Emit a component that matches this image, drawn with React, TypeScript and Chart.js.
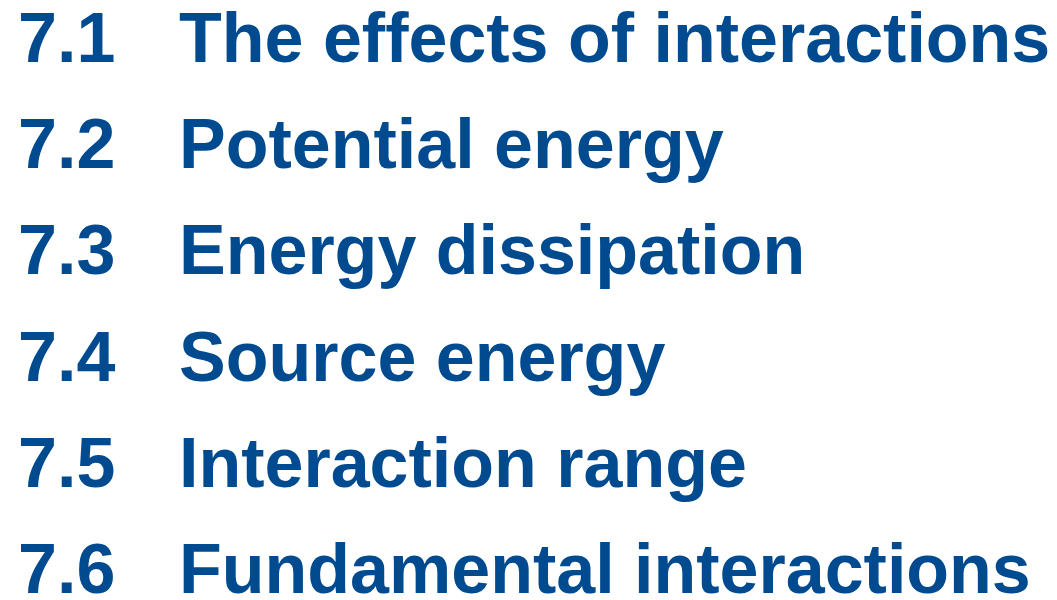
import React, { useEffect, useRef } from "react";
import { Chart, registerables } from "chart.js";

Chart.register(...registerables);

const sectionNumbers = ["7.1", "7.2", "7.3", "7.4", "7.5", "7.6"];
const sectionTitles = [
  "The effects of interactions",
  "Potential energy",
  "Energy dissipation",
  "Source energy",
  "Interaction range",
  "Fundamental interactions",
];
const rowIndex = [0, 1, 2, 3, 4, 5];

const TEXT_COLOR = "#004a8f";
const FONT = "bold 70px 'Liberation Sans', Arial, sans-serif";

const tocPlugin = {
  id: "tocText",
  afterDatasetsDraw(chart: any) {
    const ctx = chart.ctx;
    const xs = chart.scales.x;
    const ys = chart.scales.y;
    ctx.save();
    ctx.fillStyle = TEXT_COLOR;
    ctx.font = FONT;
    ctx.textBaseline = "alphabetic";
    ctx.textAlign = "left";
    rowIndex.forEach((i) => {
      const y = ys.getPixelForValue(i);
      ctx.fillText(sectionNumbers[i], xs.getPixelForValue(18), y);
      ctx.fillText(sectionTitles[i], xs.getPixelForValue(179), y);
    });
    ctx.restore();
  },
};

export default function App() {
  const ref = useRef<HTMLCanvasElement>(null);
  useEffect(() => {
    document.body.style.margin = "0";
    const chart = new Chart(ref.current as HTMLCanvasElement, {
      type: "scatter",
      data: {
        datasets: [
          {
            data: rowIndex.map((i) => ({ x: 0, y: i })),
            pointRadius: 0,
            pointHoverRadius: 0,
          },
        ],
      },
      options: {
        animation: false,
        responsive: false,
        maintainAspectRatio: false,
        layout: { padding: 0 },
        plugins: { legend: { display: false }, tooltip: { enabled: false } },
        scales: {
          x: { type: "linear", min: 0, max: 1057, display: false },
          y: { type: "linear", min: -0.584, max: 5.066, reverse: true, display: false },
        },
      },
      plugins: [tocPlugin],
    });
    return () => chart.destroy();
  }, []);
  return (
    <div style={{ position: "absolute", left: 0, top: 0, width: 1057, height: 600, background: "#fff" }}>
      <canvas ref={ref} width={1057} height={600} style={{ width: 1057, height: 600 }} />
    </div>
  );
}
